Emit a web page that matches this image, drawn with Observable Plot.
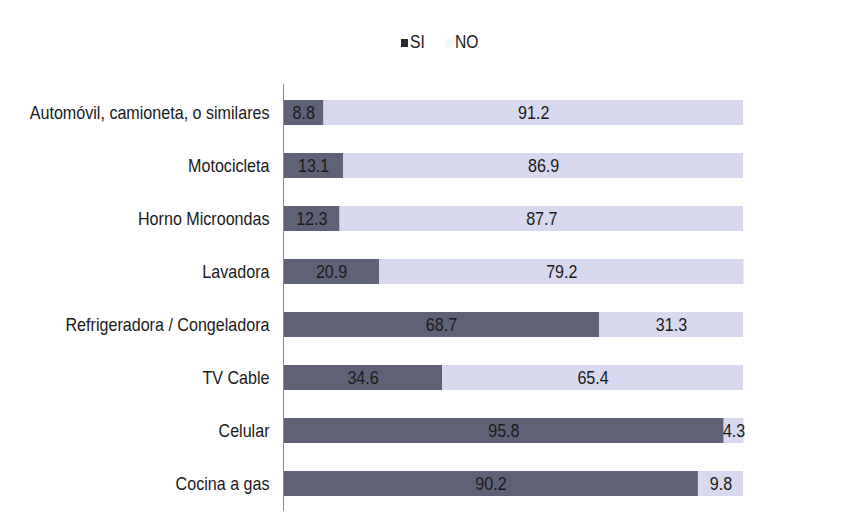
<!DOCTYPE html>
<html>
<head>
<meta charset="utf-8">
<script src="https://cdn.jsdelivr.net/npm/d3@7"></script>
<script src="https://cdn.jsdelivr.net/npm/@observablehq/plot@0.6"></script>
<style>
  body { margin: 0; background: #fff; font-family: "Liberation Sans", Arial, sans-serif; }
  #legend { position: relative; width: 846px; height: 60px; font-size: 18px; color: #1a1a1a; }
  #legend .sw { position: absolute; width: 7px; height: 8px; top: 39px; }
  #legend .lb { position: absolute; top: 32px; line-height: 20px; transform: scaleX(0.87); transform-origin: left center; }
</style>
</head>
<body>
<div id="legend"></div>
<div id="chart"></div>
<script>
// Household goods: share of homes that have each item (SI) or not (NO), in %
const categories = [
  "Automóvil, camioneta, o similares",
  "Motocicleta",
  "Horno Microondas",
  "Lavadora",
  "Refrigeradora / Congeladora",
  "TV Cable",
  "Celular",
  "Cocina a gas"
];
const siValues = [8.8, 13.1, 12.3, 20.9, 68.7, 34.6, 95.8, 90.2];
const noValues = [91.2, 86.9, 87.7, 79.2, 31.3, 65.4, 4.3, 9.8];
const seriesNames = ["SI", "NO"];
const seriesColors = ["#5f6276", "#d8d8ee"];

// long-format table for the stacked bars
const rows = [];
categories.forEach((cat, i) => {
  rows.push({cat, series: "SI", value: siValues[i]});
  rows.push({cat, series: "NO", value: noValues[i]});
});

// legend above the chart
const legend = document.getElementById("legend");
const legendItems = [
  {name: seriesNames[0], color: "#2a2a2e", sx: 401, tx: 410},
  {name: seriesNames[1], color: "#f3f3f9", sx: 445, tx: 455}
];
for (const it of legendItems) {
  const sw = document.createElement("div");
  sw.className = "sw";
  sw.style.left = it.sx + "px";
  sw.style.background = it.color;
  legend.appendChild(sw);
  const lb = document.createElement("div");
  lb.className = "lb";
  lb.style.left = it.tx + "px";
  lb.textContent = it.name;
  legend.appendChild(lb);
}

const font = "'Liberation Sans', Arial, sans-serif";
const squeeze = 0.87; // condensed lettering

const chart = Plot.plot({
  width: 846,
  height: 471,
  marginTop: 24,
  marginBottom: 20,
  marginLeft: 283,
  marginRight: 103,
  style: {fontFamily: font, background: "#fff"},
  x: {domain: [0, 100], axis: null},
  y: {domain: categories, paddingInner: 0.53, paddingOuter: 0.265, label: null},
  color: {domain: seriesNames, range: seriesColors},
  marks: [
    Plot.barX(rows, Plot.stackX({x: "value", y: "cat", fill: "series"})),
    Plot.ruleX([0], {stroke: "#8a8a8a", strokeWidth: 1}),
    Plot.text(rows, Plot.stackX({
      x: "value", y: "cat", z: "series",
      text: d => d.value.toFixed(1),
      fill: "#1a1a1a", fontSize: 18.5
    })),
    Plot.axisY({tickSize: 0, tickPadding: 14, fontSize: 18.5, label: null, color: "#1a1a1a"})
  ]
});
document.getElementById("chart").appendChild(chart);

// narrow every label horizontally, keeping its anchor in place
chart.querySelectorAll("text").forEach(t => {
  const w = t.getComputedTextLength();
  if (w > 0) {
    t.setAttribute("textLength", (w * squeeze).toFixed(2));
    t.setAttribute("lengthAdjust", "spacingAndGlyphs");
  }
});
</script>
</body>
</html>
